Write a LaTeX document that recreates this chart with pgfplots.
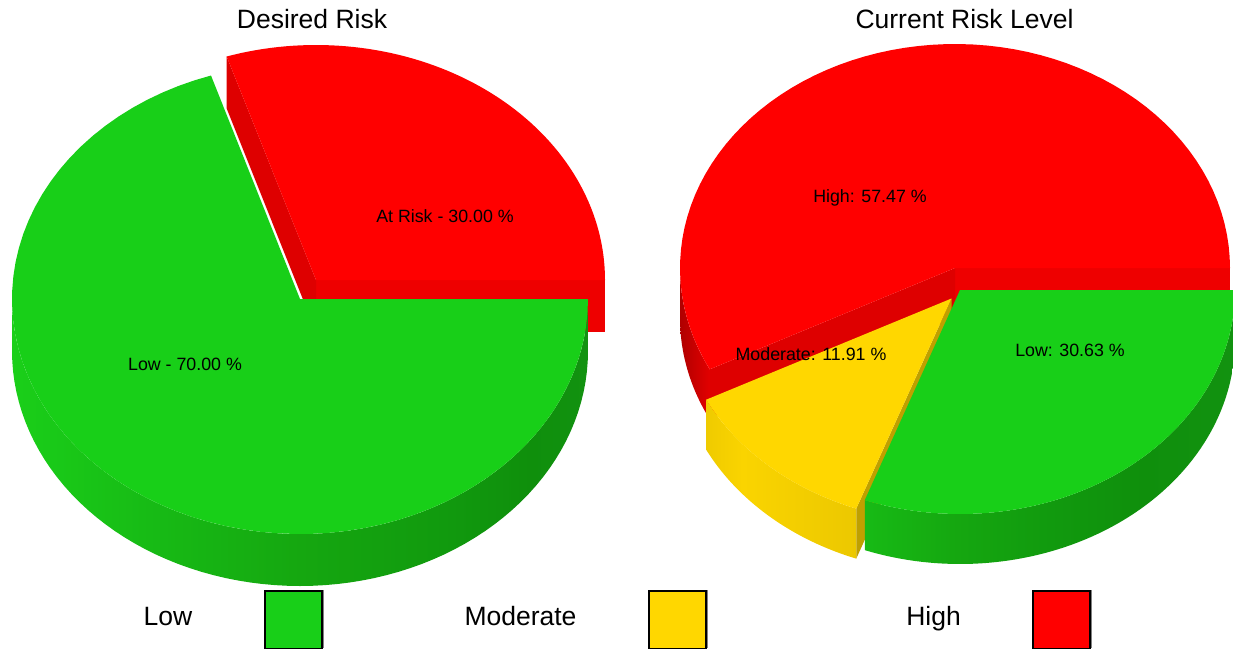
\documentclass[border=0pt]{standalone}
\usepackage{fontspec}
\setmainfont{Liberation Sans}
\usepackage{pgfplots}
\usepackage{pgfplotstable}
\pgfplotsset{compat=1.18}

% Slice shares, in percent
\pgfplotstableread{
name share
Low 70.00
AtRisk 30.00
}\desiredrisk
\pgfplotstableread{
name share
Low 30.63
Moderate 11.91
High 57.47
}\currentrisk

\definecolor{lowgreen}{HTML}{18CF18}
\definecolor{modyellow}{HTML}{FFD700}
\definecolor{highred}{HTML}{FF0000}
\definecolor{wallredA}{HTML}{DE0000}
\definecolor{wallredB}{HTML}{EE0000}
\definecolor{wallyellow}{HTML}{BFA000}

% Rim shadings: the 25bp to 75bp stretch spans the filled shape
\definecolor{ga}{HTML}{1ACF19}
\definecolor{gb}{HTML}{17BA15}
\definecolor{gc}{HTML}{15A710}
\definecolor{gd}{HTML}{119A0E}
\definecolor{ge}{HTML}{0F8F0C}
\definecolor{gf}{HTML}{129210}
\pgfdeclarehorizontalshading{rimgreenfull}{100bp}{%
  color(0bp)=(ga); color(25bp)=(ga); color(37.5bp)=(gb); color(50bp)=(gc);
  color(62.5bp)=(gd); color(70bp)=(ge); color(75bp)=(gf); color(100bp)=(gf)}
\pgfdeclarehorizontalshading{rimgreenpart}{100bp}{%
  color(0bp)=(gb); color(25bp)=(gb); color(37.5bp)=(gc);
  color(50bp)=(gd); color(62.5bp)=(ge); color(75bp)=(gf); color(100bp)=(gf)}
\definecolor{ya}{HTML}{EFCB00}
\definecolor{yb}{HTML}{FAD400}
\definecolor{yc}{HTML}{ECC800}
\pgfdeclarehorizontalshading{rimyellow}{100bp}{%
  color(0bp)=(ya); color(25bp)=(ya); color(37bp)=(yb); color(75bp)=(yc); color(100bp)=(yc)}
\definecolor{ra}{HTML}{B00000}
\definecolor{rb}{HTML}{E20000}
\pgfdeclarehorizontalshading{rimred}{100bp}{%
  color(0bp)=(ra); color(25bp)=(ra); color(75bp)=(rb); color(100bp)=(rb)}

% Outline points of an elliptical arc: macro, cx, cy, rx, ry, start angle, end angle
\def\arcsteps{72}
\newcommand\ellipsearc[7]{%
  \gdef#1{}%
  \foreach \k in {0,...,\arcsteps}{%
    \pgfmathsetmacro\ang{#6+(#7-#6)/\arcsteps*\k}%
    \pgfmathsetmacro\px{#2+#4*cos(\ang)}%
    \pgfmathsetmacro\py{#3-#5*sin(\ang)}%
    \xdef#1{#1 (\px,\py)}%
  }}
% Filled polygon from a list of points held in macros
\newcommand\fillshape[2]{%
  \edef\next{\noexpand\addplot[draw=none,mark=none,forget plot,\unexpanded{#1}] coordinates {#2};}\next}
% Flat cut face of a slice: options, cx, cy, rx, ry, angle, depth
\newcommand\radialwall[7]{%
  \pgfmathsetmacro\wx{#2+#4*cos(#6)}%
  \pgfmathsetmacro\wy{#3-#5*sin(#6)}%
  \pgfmathsetmacro\wyb{\wy+#7}%
  \pgfmathsetmacro\cyb{#3+#7}%
  \fillshape{#1}{(#2,#3) (\wx,\wy) (\wx,\wyb) (#2,\cyb)}}
% Curved rim of a slice: options, cx, cy, rx, ry, start, end, depth
\newcommand\rimwall[8]{%
  \pgfmathsetmacro\cyb{#3+#8}%
  \ellipsearc\rimlow{#2}{\cyb}{#4}{#5}{#6}{#7}%
  \ellipsearc\rimup{#2}{#3}{#4}{#5}{#7}{#6}%
  \fillshape{#1}{\rimlow\space\rimup}}
% Top face of a slice: options, cx, cy, rx, ry, start, end
\newcommand\topface[7]{%
  \ellipsearc\facearc{#2}{#3}{#4}{#5}{#6}{#7}%
  \fillshape{#1}{(#2,#3) \facearc}}

% Sweep angles from the shares
\pgfplotstablegetelem{0}{share}\of\desiredrisk
\pgfmathsetmacro\lowA{\pgfplotsretval*3.6}
\pgfplotstablegetelem{1}{share}\of\desiredrisk
\pgfmathsetmacro\riskA{\pgfplotsretval*3.6}
\pgfplotstablegetelem{0}{share}\of\currentrisk
\pgfmathsetmacro\lowB{\pgfplotsretval*3.6}
\pgfplotstablegetelem{1}{share}\of\currentrisk
\pgfmathsetmacro\modB{\lowB+\pgfplotsretval*3.6}
\pgfplotstablegetelem{2}{share}\of\currentrisk
\pgfmathsetmacro\highB{\pgfplotsretval*3.6}

\begin{document}
\begin{tikzpicture}
\begin{axis}[
  x=1pt, y=1pt, y dir=reverse,
  xmin=0, xmax=1233, ymin=0, ymax=648,
  hide axis, scale only axis,
  anchor=south west, at={(0pt,0pt)},
  nodes={font=\fontsize{17.8}{20}\selectfont, text=black, inner sep=0pt, anchor=base},
]
% Desired Risk: At Risk slice, pulled out
\radialwall{fill=wallredB}{316}{280}{289}{235}{0}{52}
\radialwall{fill=wallredA}{316}{280}{289}{235}{\riskA}{52}
\topface{fill=highred}{316}{280}{289}{235}{0}{\riskA}
% Desired Risk: Low slice
\rimwall{shading=rimgreenfull}{300}{299}{288}{235}{-180}{0}{52}
\topface{fill=lowgreen}{300}{299}{288}{235}{0}{-\lowA}

% Current Risk Level: High slice
\rimwall{shading=rimred}{955}{268}{275}{224}{180}{\highB}{50}
\radialwall{fill=wallredB}{955}{268}{275}{224}{0}{50}
\radialwall{fill=wallredA}{955}{268}{275}{224}{\highB}{50}
\topface{fill=highred}{955}{268}{275}{224}{0}{\highB}
% Current Risk Level: Moderate slice
\rimwall{shading=rimyellow}{951.5}{298.5}{275}{224}{-\modB}{-\lowB}{50}
\radialwall{fill=wallyellow}{951.5}{298.5}{275}{224}{-\lowB}{50}
\topface{fill=modyellow}{951.5}{298.5}{275}{224}{-\lowB}{-\modB}
% Current Risk Level: Low slice
\rimwall{shading=rimgreenpart}{960}{290}{275}{224}{-\lowB}{0}{50}
\topface{fill=lowgreen}{960}{290}{275}{224}{0}{-\lowB}

% Legend swatches, each with a thin grey edge on its right
\addplot[fill=lowgreen,draw=black,line width=2pt,mark=none,forget plot]
  coordinates {(265,591) (322,591) (322,648.5) (265,648.5)} --cycle;
\addplot[draw=gray,line width=1pt,mark=none,forget plot]
  coordinates {(323,590) (323,648)};
\addplot[fill=modyellow,draw=black,line width=2pt,mark=none,forget plot]
  coordinates {(649,591) (706,591) (706,648.5) (649,648.5)} --cycle;
\addplot[draw=gray,line width=1pt,mark=none,forget plot]
  coordinates {(707,590) (707,648)};
\addplot[fill=highred,draw=black,line width=2pt,mark=none,forget plot]
  coordinates {(1033,591) (1090,591) (1090,648.5) (1033,648.5)} --cycle;
\addplot[draw=gray,line width=1pt,mark=none,forget plot]
  coordinates {(1091,590) (1091,648)};

% Slice labels
\node at (axis cs:445,222) {At Risk - 30.00 \%};
\node at (axis cs:185,370) {Low - 70.00 \%};
\node at (axis cs:870,202) {High: 57.47 \%};
\node at (axis cs:811,360) {Moderate: 11.91 \%};
\node at (axis cs:1070,356) {Low: 30.63 \%};

% Titles and legend names
\node[font=\fontsize{26.5}{30}\selectfont] at (axis cs:312,28.5) {Desired Risk};
\node[font=\fontsize{26.5}{30}\selectfont] at (axis cs:964.5,28.5) {Current Risk Level};
\node[font=\fontsize{26.5}{30}\selectfont] at (axis cs:168,625) {Low};
\node[font=\fontsize{26.5}{30}\selectfont] at (axis cs:520.5,625) {Moderate};
\node[font=\fontsize{26.5}{30}\selectfont] at (axis cs:933.5,625) {High};
\end{axis}
% The page is exactly the axis box
\pgfresetboundingbox
\path[use as bounding box] (0pt,0pt) rectangle (1233pt,648pt);
\end{tikzpicture}
\end{document}
